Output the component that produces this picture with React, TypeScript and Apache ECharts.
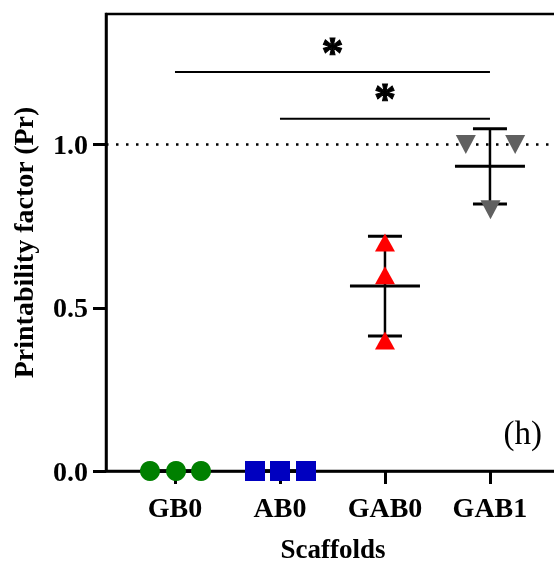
import React, { useEffect, useRef } from "react";
import * as echarts from "echarts";

// ---- data ----
const categories = ["GB0", "AB0", "GAB0", "GAB1"];
const gb0Values = [0, 0, 0];
const ab0Values = [0, 0, 0];
const gab0Values = [0.7, 0.6, 0.4];
const gab1Values = [1.0, 0.8, 1.0];
const yTickValues = [0, 0.5, 1.0];
const referenceLevel = 1.0;
const sigFrom = [1, 2];
const sigTo = [4, 4];
const sigLevel = [1.222, 1.079];
const sigLabel = ["*", "*"];

const FONT = '"Liberation Serif", "Times New Roman", serif';

const mean = (a: number[]) => a.reduce((s, v) => s + v, 0) / a.length;
const sd = (a: number[]) => {
  const m = mean(a);
  return Math.sqrt(a.reduce((s, v) => s + (v - m) * (v - m), 0) / (a.length - 1));
};

export default function App() {
  const ref = useRef<HTMLDivElement>(null);
  useEffect(() => {
    if (!ref.current) return;
    const chart = echarts.init(ref.current, null, { renderer: "svg" });
    const groups = [gb0Values, ab0Values, gab0Values, gab1Values];
    const jitter = [
      [-0.238, 0.01, 0.248],
      [-0.238, 0, 0.248],
      [0, 0, 0],
      [-0.23, 0.005, 0.24],
    ];
    const styles = [
      { symbol: "circle", size: 20, color: "#008000", rotate: 0 },
      { symbol: "rect", size: 20, color: "#0000c0", rotate: 0 },
      { symbol: "triangle", size: [20, 18], color: "#ff0000", rotate: 0 },
      { symbol: "triangle", size: [20, 19], color: "#606060", rotate: 180 },
    ];
    const scatterSeries = groups.map((vals, gi) => ({
      type: "scatter",
      name: categories[gi],
      z: 5,
      symbol: styles[gi].symbol,
      symbolSize: styles[gi].size,
      symbolRotate: styles[gi].rotate,
      itemStyle: { color: styles[gi].color, opacity: 1 },
      data: vals.map((v, i) => [gi + 1 + jitter[gi][i], v]),
    }));
    const errData = groups.map((vals, gi) => [gi + 1, mean(vals), sd(vals)]);
    const sigData = sigFrom.map((f, i) => [f, sigTo[i], sigLevel[i], i]);

    chart.setOption({
      animation: false,
      grid: {
        left: 106,
        top: 14,
        right: -6,
        bottom: 96,
        outerBoundsMode: "none",
        containLabel: false,
        show: true,
        borderColor: "#000",
        borderWidth: 2.5,
        backgroundColor: "transparent",
      },
      xAxis: {
        type: "value",
        min: 0.343,
        max: 4.667,
        splitLine: { show: false },
        axisLine: { show: true, lineStyle: { color: "#000", width: 2.5 } },
        axisTick: {
          show: true,
          length: 13,
          customValues: [1, 2, 3, 4],
          lineStyle: { color: "#000", width: 3 },
        },
        axisLabel: {
          customValues: [1, 2, 3, 4],
          formatter: (v: number) => categories[Math.round(v) - 1] ?? "",
          color: "#000",
          fontFamily: FONT,
          fontWeight: "bold",
          fontSize: 28,
          margin: 22,
        },
        name: "Scaffolds",
        nameLocation: "middle",
        nameGap: 64,
        nameTextStyle: {
          color: "#000",
          fontFamily: FONT,
          fontWeight: "bold",
          fontSize: 27,
        },
      },
      yAxis: {
        type: "value",
        min: 0,
        max: 1.4,
        splitLine: { show: false },
        axisLine: { show: true, lineStyle: { color: "#000", width: 2.5 } },
        axisTick: {
          show: true,
          length: 13,
          customValues: yTickValues,
          lineStyle: { color: "#000", width: 3 },
        },
        axisLabel: {
          customValues: yTickValues,
          formatter: (v: number) => v.toFixed(1),
          color: "#000",
          fontFamily: FONT,
          fontWeight: "bold",
          fontSize: 28,
          margin: 18,
        },
        name: "Printability factor (Pr)",
        nameLocation: "middle",
        nameGap: 69,
        nameTextStyle: {
          color: "#000",
          fontFamily: FONT,
          fontWeight: "bold",
          fontSize: 28,
        },
      },
      graphic: [
        {
          type: "text",
          right: 12,
          top: 416,
          style: {
            text: "(h)",
            fill: "#000",
            font: `33px ${FONT}`,
          },
        },
      ],
      series: [
        {
          type: "custom",
          name: "errorbars",
          z: 3,
          clip: false,
          data: errData,
          encode: { x: 0, y: 1 },
          renderItem: (params: any, api: any) => {
            const x = api.value(0);
            const m = api.value(1);
            const s = api.value(2);
            const c = api.coord([x, m]);
            const hi = api.coord([x, m + s]);
            const lo = api.coord([x, m - s]);
            const st = { stroke: "#000", lineWidth: 3 };
            return {
              type: "group",
              children: [
                { type: "line", shape: { x1: c[0], y1: hi[1], x2: c[0], y2: lo[1] }, style: { stroke: "#000", lineWidth: 2.5 } },
                { type: "line", shape: { x1: c[0] - 17, y1: hi[1], x2: c[0] + 17, y2: hi[1] }, style: st },
                { type: "line", shape: { x1: c[0] - 17, y1: lo[1], x2: c[0] + 17, y2: lo[1] }, style: st },
                { type: "line", shape: { x1: c[0] - 35, y1: c[1], x2: c[0] + 35, y2: c[1] }, style: st },
              ],
            };
          },
          markLine: {
            silent: true,
            symbol: "none",
            label: { show: false },
            lineStyle: { color: "#000", width: 2.5, type: [2.5, 7.5] },
            data: [{ yAxis: referenceLevel }],
          },
        },
        {
          type: "custom",
          name: "significance",
          z: 4,
          clip: false,
          data: sigData,
          encode: { x: [0, 1], y: 2 },
          renderItem: (params: any, api: any) => {
            const p1 = api.coord([api.value(0), api.value(2)]);
            const p2 = api.coord([api.value(1), api.value(2)]);
            const idx = api.value(3);
            return {
              type: "group",
              children: [
                { type: "line", shape: { x1: p1[0], y1: p1[1], x2: p2[0], y2: p2[1] }, style: { stroke: "#000", lineWidth: 2 } },
                {
                  type: "text",
                  x: (p1[0] + p2[0]) / 2,
                  y: p1[1] + 2,
                  style: {
                    text: sigLabel[idx],
                    fill: "#000",
                    stroke: "#000",
                    lineWidth: 1,
                    font: `bold 44px ${FONT}`,
                    align: "center",
                    verticalAlign: "bottom",
                  },
                },
              ],
            };
          },
        },
        ...scatterSeries,
      ],
    });
    return () => chart.dispose();
  }, []);
  return (
    <div
      ref={ref}
      style={{ position: "fixed", left: 0, top: 0, width: 554, height: 567 }}
    />
  );
}
